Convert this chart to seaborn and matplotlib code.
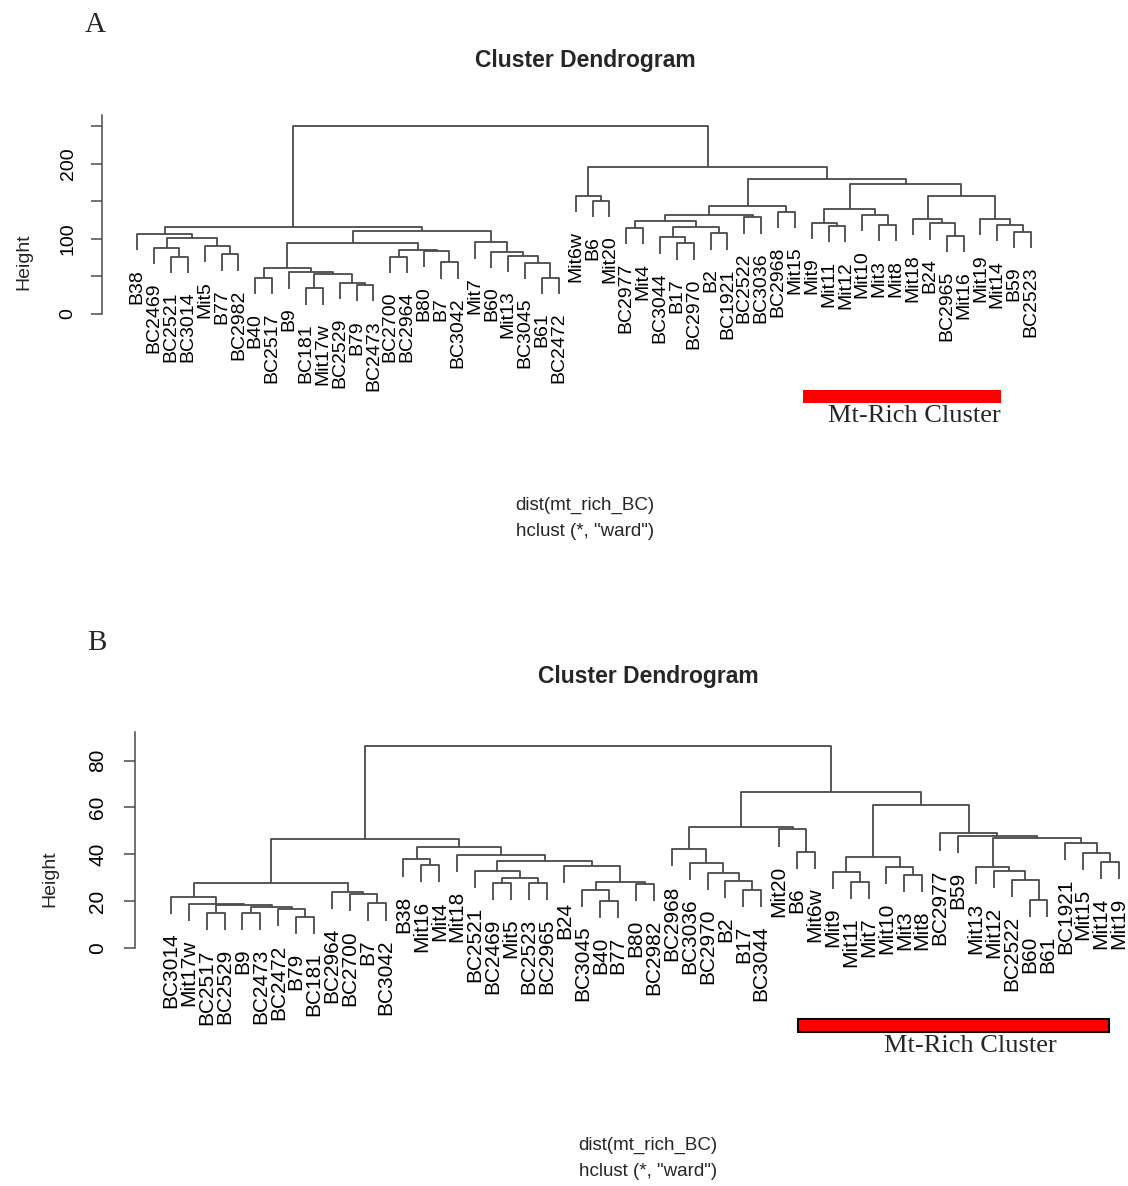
import matplotlib
matplotlib.use("Agg")
import matplotlib.pyplot as plt
import matplotlib.transforms as mtransforms
from matplotlib.patches import Rectangle
from matplotlib import font_manager
import seaborn as sns

# ---- panel A: leaf order (left to right) and merges (child, child, height) ----
# a child is either a leaf name or the row number of an earlier merge
leaves_a = ["B38", "BC2469", "BC2521", "BC3014", "Mit5", "B77", "BC2982", "B40",
            "BC2517", "B9", "BC181", "Mit17w", "BC2529", "B79", "BC2473", "BC2700",
            "BC2964", "B80", "B7", "BC3042", "Mit7", "B60", "Mit13", "BC3045", "B61",
            "BC2472", "Mit6w", "B6", "Mit20", "BC2977", "Mit4", "BC3044", "B17",
            "BC2970", "B2", "BC1921", "BC2522", "BC3036", "BC2968", "Mit15", "Mit9",
            "Mit11", "Mit12", "Mit10", "Mit3", "Mit8", "Mit18", "B24", "BC2965",
            "Mit16", "Mit19", "Mit14", "B59", "BC2523"]
merges_a = [
    ("BC2521", "BC3014", 76.2), ("BC2469", 0, 88.2), ("B77", "BC2982", 79.4),
    ("Mit5", 2, 90.4), (1, 3, 100.6), ("B38", 4, 106.4),
    ("B40", "BC2517", 48.3), ("BC181", "Mit17w", 34.1), ("B79", "BC2473", 38.6),
    ("BC2529", 8, 41.7), (7, 9, 52.7), ("B9", 10, 55.4), (6, 11, 60.7),
    ("BC2700", "BC2964", 76.2), ("B7", "BC3042", 68.7), ("B80", 14, 84.0),
    (13, 15, 85.1), (12, 16, 94.9),
    ("B61", "BC2472", 48.3), ("BC3045", 18, 68.3), ("Mit13", 19, 77.6),
    ("B60", 20, 82.9), ("Mit7", 21, 95.3), (17, 22, 110.8), (5, 23, 115.2),
    ("B6", "Mit20", 150.7), ("Mit6w", 25, 156.9),
    ("BC2977", "Mit4", 114.8), ("B17", "BC2970", 94.0), ("BC3044", 28, 102.0),
    ("B2", "BC1921", 107.3), (29, 30, 115.3), (27, 31, 123.7),
    ("BC2522", "BC3036", 128.6), (32, 33, 131.7), ("BC2968", "Mit15", 136.1),
    (34, 35, 144.1),
    ("Mit11", "Mit12", 117.0), ("Mit9", 37, 121.5), ("Mit3", "Mit8", 118.4),
    ("Mit10", 39, 131.7), (38, 40, 140.1),
    ("BC2965", "Mit16", 103.7), ("B24", 42, 120.6), ("Mit18", 43, 126.3),
    ("B59", "BC2523", 109.5), ("Mit14", 45, 118.4), ("Mit19", 46, 126.3),
    (44, 47, 157.4), (41, 48, 172.9), (36, 49, 179.5), (26, 50, 195.9),
    (24, 51, 250.0),
]

# ---- panel B ----
leaves_b = ["BC3014", "Mit17w", "BC2517", "BC2529", "B9", "BC2473", "BC2472", "B79",
            "BC181", "BC2964", "BC2700", "B7", "BC3042", "B38", "Mit16", "Mit4",
            "Mit18", "BC2521", "BC2469", "Mit5", "BC2523", "BC2965", "B24", "BC3045",
            "B40", "B77", "B80", "BC2982", "BC2968", "BC3036", "BC2970", "B2", "B17",
            "BC3044", "Mit20", "B6", "Mit6w", "Mit9", "Mit11", "Mit7", "Mit10", "Mit3",
            "Mit8", "BC2977", "B59", "Mit13", "Mit12", "BC2522", "B60", "B61",
            "BC1921", "Mit15", "Mit14", "Mit19"]
merges_b = [
    ("BC2517", "BC2529", 14.8), ("B9", "BC2473", 15.0), ("B79", "BC181", 13.4),
    ("BC2472", 2, 16.6), (1, 3, 17.6), (0, 4, 18.3), ("Mit17w", 5, 18.8),
    ("BC3014", 6, 21.9), ("B7", "BC3042", 19.0), ("BC2700", 8, 22.9),
    ("BC2964", 9, 24.0), (7, 10, 27.9),
    ("Mit16", "Mit4", 35.4), ("B38", 12, 37.8),
    ("BC2469", "Mit5", 27.9), ("BC2523", "BC2965", 27.9), (14, 15, 30.0),
    ("BC2521", 16, 32.9), ("B40", "B77", 20.2), ("BC3045", 18, 24.8),
    ("B80", "BC2982", 27.3), (19, 20, 28.3), ("B24", 21, 35.1), (17, 22, 37.1),
    ("Mit18", 23, 39.7), (13, 24, 43.0), (11, 25, 46.5),
    ("B17", "BC3044", 24.8), ("B2", 27, 28.6), ("BC2970", 28, 32.1),
    ("BC3036", 29, 36.4), ("BC2968", 30, 42.1), ("B6", "Mit6w", 41.1),
    ("Mit20", 32, 50.6), (31, 33, 51.8),
    ("Mit11", "Mit7", 28.3), ("Mit9", 35, 32.6), ("Mit3", "Mit8", 31.2),
    ("Mit10", 37, 34.7), (36, 38, 39.0),
    ("B60", "B61", 20.5), ("BC2522", 40, 29.0), ("Mit12", 41, 33.0),
    ("Mit13", 42, 34.7), ("Mit14", "Mit19", 36.8), ("Mit15", 44, 40.7),
    ("BC1921", 45, 44.7), (43, 46, 47.1), ("B59", 47, 47.8), ("BC2977", 48, 48.9),
    (39, 49, 61.0), (34, 50, 66.7), (26, 51, 86.4),
]

W, H = 1128, 1186
LINE = "#4a4a4a"

sns.set_theme(style="white")
plt.rcParams["font.family"] = ["Liberation Sans", "DejaVu Sans"]

names = {f.name for f in font_manager.fontManager.ttflist}
if "Liberation Sans Narrow" in names:
    narrow, title_size, sub_size = "Liberation Sans Narrow", 20, 16.5
else:
    narrow, title_size, sub_size = "Liberation Sans", 16.5, 13.5


def fx(px):
    return px / W


def fy(py):
    return 1 - py / H


def draw_dendro(ax, leaves, merges, ymax, ticks, ticklabels, leaf_fs, tick_fs,
                spine_off, tick_pad):
    # R style: leaves hang 10% of the height range below their parent merge
    heights = [m[2] for m in merges]
    hang = 0.1 * (max(heights) - min(heights))
    pos = {name: i + 1 for i, name in enumerate(leaves)}
    cx, ch = [], []
    for a, b, h in merges:
        pts = []
        for c in (a, b):
            if isinstance(c, str):
                pts.append((pos[c], h - hang))
                ax.annotate(c, xy=(pos[c], h - hang), xytext=(0, -13.5),
                            textcoords="offset points", rotation=90,
                            ha="center", va="top", fontsize=leaf_fs,
                            color="black", annotation_clip=False)
            else:
                pts.append((cx[c], ch[c]))
        (xl, hl), (xr, hr) = pts
        ax.plot([xl, xl, xr, xr], [hl, h, h, hr], color=LINE, lw=1.3,
                solid_capstyle="butt", clip_on=False)
        cx.append((xl + xr) / 2)
        ch.append(h)

    ax.set_ylim(0, ymax)
    ax.set_xticks([])
    ax.set_yticks(ticks)
    ax.set_yticklabels(ticklabels)
    sns.despine(ax=ax, bottom=True)
    ax.spines["left"].set_position(("outward", spine_off))
    ax.spines["left"].set_color(LINE)
    ax.spines["left"].set_linewidth(1.1)
    ax.tick_params(axis="y", left=True, length=8, width=1.1, color=LINE,
                   pad=tick_pad, labelsize=tick_fs, labelcolor="black")
    plt.setp(ax.get_yticklabels(), rotation=90, va="center")
    ax.set_facecolor("none")


fig = plt.figure(figsize=(W / 100, H / 100), dpi=100)

# panel A
ax_a = fig.add_axes([fx(128.9), fy(314), fx(910.5), 199.3 / H])
ax_a.set_xlim(0.5, 54.5)
draw_dendro(ax_a, leaves_a, merges_a, 265, [0, 50, 100, 150, 200, 250],
            ["0", "", "100", "", "200", ""], 14, 14, 19.6, 10)

# panel B
ax_b = fig.add_axes([fx(162.0), fy(948), fx(957.0), 215.6 / H])
ax_b.set_xlim(0.5, 54)
draw_dendro(ax_b, leaves_b, merges_b, 92, [0, 20, 40, 60, 80],
            ["0", "20", "40", "60", "80"], 15, 15, 19.5, 12)

# titles and R-style footers
for cxp, ty, sy1, sy2 in [(585, 60, 505, 531), (648, 677, 1145, 1172)]:
    fig.text(fx(cxp), fy(ty), "Cluster Dendrogram", ha="center", va="center",
             family=narrow, fontsize=title_size, fontweight="bold")
    fig.text(fx(cxp), fy(sy1), "dist(mt_rich_BC)", ha="center", va="center",
             family=narrow, fontsize=sub_size)
    fig.text(fx(cxp), fy(sy2), 'hclust (*, "ward")', ha="center", va="center",
             family=narrow, fontsize=sub_size)

fig.text(fx(24), fy(262), "Height", rotation=90, ha="center", va="center", fontsize=14)
fig.text(fx(50), fy(879), "Height", rotation=90, ha="center", va="center", fontsize=14)

fig.text(fx(95), fy(25), "A", ha="center", va="center", family="Liberation Serif", fontsize=21)
fig.text(fx(97), fy(643), "B", ha="center", va="center", family="Liberation Serif", fontsize=21)

# Mt-rich cluster bars (x in leaf units, y in figure space)
tr_a = mtransforms.blended_transform_factory(ax_a.transData, fig.transFigure)
fig.add_artist(Rectangle((40.48, fy(403)), 52.23 - 40.48, 13 / H, transform=tr_a,
                         facecolor="#ff0000", edgecolor="none"))
fig.text(fx(914), fy(416), "Mt-Rich Cluster", ha="center", va="center",
         family="Liberation Serif", fontsize=19)

tr_b = mtransforms.blended_transform_factory(ax_b.transData, fig.transFigure)
fig.add_artist(Rectangle((36.06, fy(1032)), 53.44 - 36.06, 13 / H, transform=tr_b,
                         facecolor="#ff0000", edgecolor="black", linewidth=1.5))
fig.text(fx(970), fy(1046), "Mt-Rich Cluster", ha="center", va="center",
         family="Liberation Serif", fontsize=19)

fig.savefig("out.png", dpi=100)
